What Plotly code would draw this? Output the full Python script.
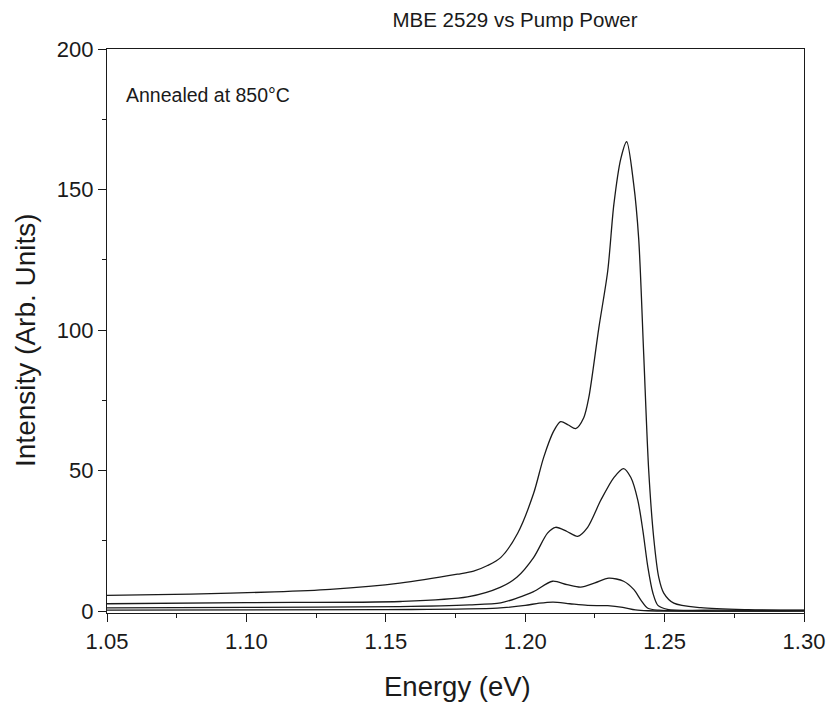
import plotly.graph_objects as go

# Curve data (Energy in eV, Intensity in arb. units)
x1 = [1.05, 1.08, 1.11, 1.13, 1.155, 1.1757, 1.1815, 1.1865, 1.1912, 1.1973, 1.203, 1.2066,
      1.2102, 1.2127, 1.2155, 1.2181, 1.221, 1.2228, 1.2264, 1.2296, 1.2318, 1.2343, 1.2364,
      1.2389, 1.2407, 1.2425, 1.2443, 1.2461, 1.2479, 1.2497, 1.2533, 1.263, 1.28, 1.30]
y1 = [5.6, 6.0, 6.8, 7.7, 9.9, 13.1, 14.2, 16.2, 19, 27.7, 41.8, 54.6,
      64, 67.4, 66.2, 64.9, 68.8, 75.9, 100.7, 121, 144.7, 161, 167,
      152, 132.6, 91.5, 50, 26, 12, 6.4, 2.8, 1.2, 0.5, 0.3]

x2 = [1.05, 1.10, 1.1553, 1.1793, 1.1912, 1.197, 1.203, 1.208, 1.2109, 1.215, 1.2188, 1.2224,
      1.2271, 1.2318, 1.2353, 1.2379, 1.2404, 1.2422, 1.244, 1.2458, 1.2476, 1.251, 1.27, 1.30]
y2 = [2.6, 3.0, 3.4, 5.0, 8.5, 12, 19, 27.7, 29.8, 28.3, 26.6, 29.8,
      39.4, 47.5, 50.7, 47.5, 39.4, 28.7, 15.6, 6.4, 2.0, 0.6, 0.3, 0.2]

x3 = [1.05, 1.10, 1.155, 1.18, 1.1912, 1.197, 1.203, 1.2098, 1.215, 1.2199, 1.225, 1.23,
      1.2353, 1.239, 1.2415, 1.244, 1.248, 1.30]
y3 = [1.1, 1.3, 1.6, 2.2, 2.9, 4.6, 6.9, 10.6, 9.4, 8.5, 10.0, 11.7,
      10.6, 7.6, 3.9, 1.0, 0.3, 0.1]

x4 = [1.05, 1.15, 1.19, 1.20, 1.205, 1.21, 1.216, 1.2224, 1.2296, 1.235, 1.2395, 1.244, 1.30]
y4 = [0.3, 0.5, 1.0, 2.0, 2.8, 3.2, 2.6, 2.0, 1.9, 1.3, 0.4, 0.1, 0.0]

series = [(x1, y1), (x2, y2), (x3, y3), (x4, y4)]

FONT = "Liberation Sans, Arial, sans-serif"
INK = "#1a1a1a"

fig = go.Figure()
for xs, ys in series:
    fig.add_trace(go.Scatter(x=xs, y=ys, mode="lines",
                             line=dict(color=INK, width=1.3, shape="spline", smoothing=0.8),
                             showlegend=False, hoverinfo="skip"))

PLOT_TOP, PLOT_BOTTOM, PLOT_LEFT, PLOT_RIGHT = 49, 613, 107, 804
ph = PLOT_BOTTOM - PLOT_TOP
pw = PLOT_RIGHT - PLOT_LEFT

fig.update_layout(
    width=830, height=702,
    margin=dict(l=PLOT_LEFT, r=830 - PLOT_RIGHT, t=PLOT_TOP, b=702 - PLOT_BOTTOM),
    paper_bgcolor="white", plot_bgcolor="white",
    font=dict(family=FONT, color=INK, size=22),
    title=dict(text="MBE 2529 vs Pump Power", x=515/830, xanchor="center", xref="container",
               y=1 - 20/702, yanchor="middle", yref="container",
               font=dict(size=20.5, family=FONT, color=INK)),
    annotations=[
        dict(text="Annealed at 850°C", xref="paper", yref="paper",
             x=(124 - PLOT_LEFT) / pw, y=(PLOT_BOTTOM - 95) / ph, xanchor="left", yanchor="middle",
             showarrow=False, font=dict(size=19.5, family=FONT, color=INK)),
        dict(text="Intensity (Arb. Units)", xref="paper", yref="paper", textangle=-90,
             x=(25 - PLOT_LEFT) / pw, y=(PLOT_BOTTOM - 340) / ph, xanchor="center", yanchor="middle",
             showarrow=False, font=dict(size=28, family=FONT, color=INK)),
        dict(text="Energy (eV)", xref="paper", yref="paper",
             x=(457 - PLOT_LEFT) / pw, y=(PLOT_BOTTOM - 686) / ph, xanchor="center", yanchor="middle",
             showarrow=False, font=dict(size=27.5, family=FONT, color=INK)),
    ],
)

fig.update_xaxes(
    range=[1.05, 1.30], tickmode="linear", tick0=1.05, dtick=0.05, tickformat=".2f",
    ticks="outside", ticklen=8, tickwidth=1.2, tickcolor=INK, automargin=False,
    minor=dict(dtick=0.025, tick0=1.05, ticks="outside", ticklen=4, tickwidth=1, tickcolor=INK),
    showline=True, linecolor=INK, linewidth=1.3, mirror=True, showgrid=False, zeroline=False,
    tickfont=dict(size=22, family=FONT, color=INK),
)
fig.update_yaxes(
    range=[-0.7, 200], tickmode="linear", tick0=0, dtick=50,
    ticks="outside", ticklen=8, tickwidth=1.2, tickcolor=INK, automargin=False,
    minor=dict(dtick=25, tick0=0, ticks="outside", ticklen=4, tickwidth=1, tickcolor=INK),
    showline=True, linecolor=INK, linewidth=1.3, mirror=True, showgrid=False, zeroline=False,
    tickfont=dict(size=22, family=FONT, color=INK),
)

fig.write_html("out.html")
